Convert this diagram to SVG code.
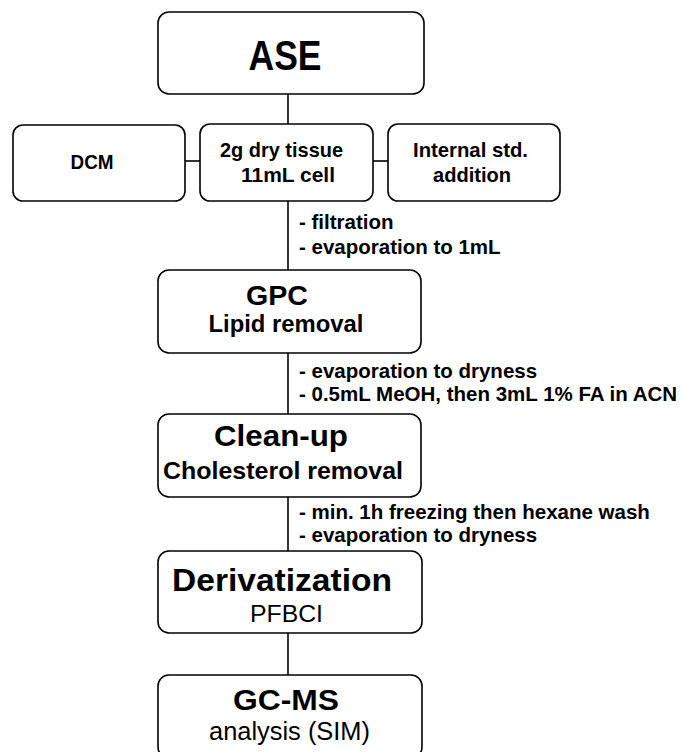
<svg xmlns="http://www.w3.org/2000/svg" width="683" height="752" viewBox="0 0 683 752">
<style>
.box{fill:#fff;stroke:#000;stroke-width:1.6}
.ln{stroke:#000;stroke-width:1.6;fill:none}
text{font-family:"Liberation Sans",Arial,sans-serif;fill:#000}
.t{font-weight:bold;text-anchor:middle}
.s{font-weight:bold;text-anchor:middle}
.r{font-weight:normal;text-anchor:middle}
.a{font-weight:bold;font-size:20.5px}
</style>
<rect width="683" height="752" fill="#fff"/>
<g id="connectors">
<line class="ln" x1="288" y1="94" x2="288" y2="124"/>
<line class="ln" x1="185" y1="161" x2="200" y2="161"/>
<line class="ln" x1="373" y1="161" x2="388" y2="161"/>
<line class="ln" x1="288" y1="201" x2="288" y2="270"/>
<line class="ln" x1="288" y1="353" x2="288" y2="414"/>
<line class="ln" x1="288" y1="497" x2="288" y2="551"/>
<line class="ln" x1="288" y1="633" x2="288" y2="675"/>
<text class="a" x="299" y="229">- filtration</text>
<text class="a" x="299" y="254">- evaporation to 1mL</text>
<text class="a" x="299" y="378">- evaporation to dryness</text>
<text class="a" x="299" y="401">- 0.5mL MeOH, then 3mL 1% FA in ACN</text>
<text class="a" x="299" y="519">- min. 1h freezing then hexane wash</text>
<text class="a" x="299" y="542">- evaporation to dryness</text>
</g>
<g id="ase">
<rect class="box" x="158" y="12" width="266" height="82" rx="11"/>
<text class="t" x="285" y="70" font-size="43" textLength="73" lengthAdjust="spacingAndGlyphs">ASE</text>
</g>
<g id="dcm">
<rect class="box" x="13" y="125" width="172" height="76" rx="10"/>
<text class="t" x="92" y="169" font-size="21" textLength="43" lengthAdjust="spacingAndGlyphs">DCM</text>
</g>
<g id="tissue">
<rect class="box" x="200" y="124" width="173" height="77" rx="10"/>
<text class="t" x="281.5" y="157" font-size="20.5" textLength="123" lengthAdjust="spacingAndGlyphs">2g dry tissue</text>
<text class="t" x="288" y="182" font-size="20.5" textLength="94" lengthAdjust="spacingAndGlyphs">11mL cell</text>
</g>
<g id="internal">
<rect class="box" x="388" y="124" width="172" height="77" rx="10"/>
<text class="t" x="470.5" y="157" font-size="20.5" textLength="115" lengthAdjust="spacingAndGlyphs">Internal std.</text>
<text class="t" x="472" y="182" font-size="20.5" textLength="78" lengthAdjust="spacingAndGlyphs">addition</text>
</g>
<g id="gpc">
<rect class="box" x="158" y="270" width="263" height="83" rx="11"/>
<text class="t" x="277" y="305" font-size="27" textLength="62" lengthAdjust="spacingAndGlyphs">GPC</text>
<text class="s" x="286" y="332" font-size="23.5" textLength="155" lengthAdjust="spacingAndGlyphs">Lipid removal</text>
</g>
<g id="cleanup">
<rect class="box" x="158" y="414" width="263" height="83" rx="11"/>
<text class="t" x="281" y="446" font-size="30" textLength="134" lengthAdjust="spacingAndGlyphs">Clean-up</text>
<text class="s" x="283" y="479" font-size="24.5" textLength="240" lengthAdjust="spacingAndGlyphs">Cholesterol removal</text>
</g>
<g id="deriv">
<rect class="box" x="158" y="551" width="264" height="82" rx="11"/>
<text class="t" x="282" y="591" font-size="31" textLength="220" lengthAdjust="spacingAndGlyphs">Derivatization</text>
<text class="r" x="286.5" y="622" font-size="24" textLength="73" lengthAdjust="spacingAndGlyphs">PFBCI</text>
</g>
<g id="gcms">
<rect class="box" x="158" y="675" width="264" height="83" rx="11"/>
<text class="t" x="286" y="710" font-size="29" textLength="106" lengthAdjust="spacingAndGlyphs">GC-MS</text>
<text class="r" x="289.5" y="740" font-size="25" textLength="161" lengthAdjust="spacingAndGlyphs">analysis (SIM)</text>
</g>
</svg>
